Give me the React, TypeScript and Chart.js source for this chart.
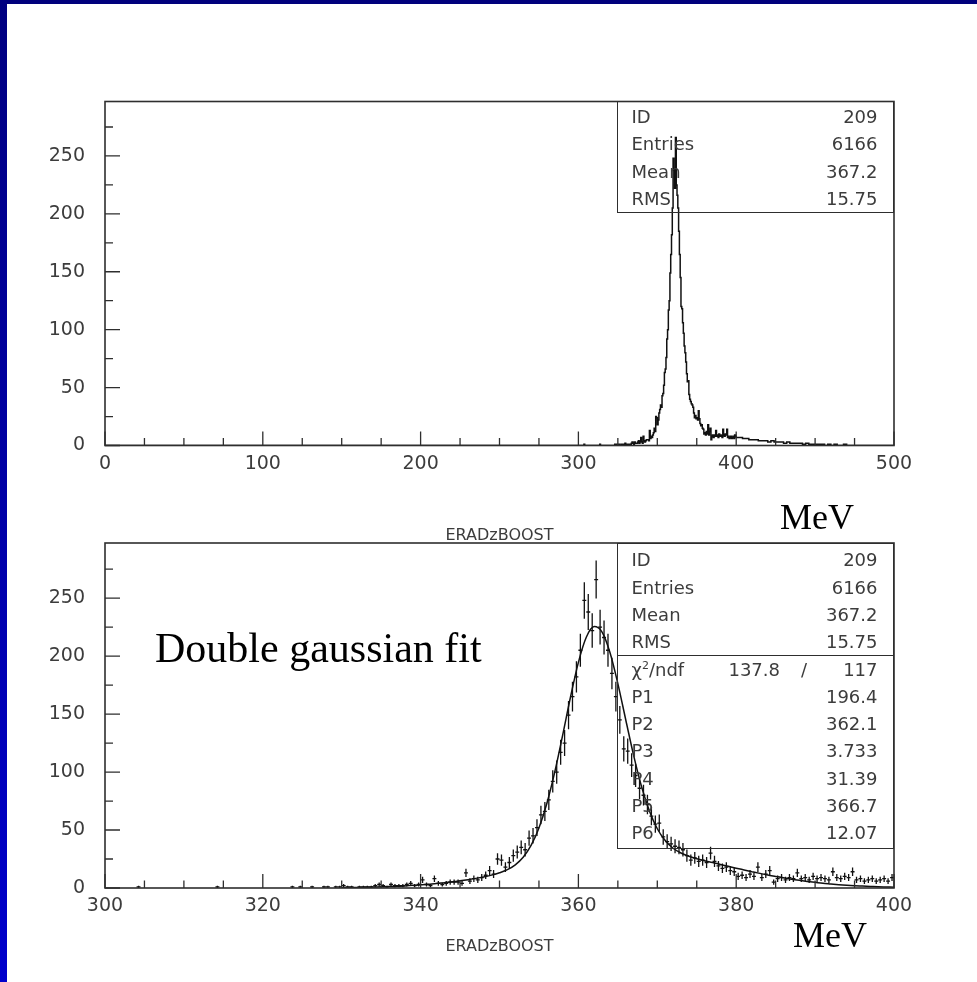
import React, { useEffect, useRef } from 'react';
import { Chart, registerables } from 'chart.js';
Chart.register(...registerables);

// ---- histogram data (ID 209, ERADzBOOST, 0.5 MeV bins from 300 to 400) ----
const BIN_START = 300;
const BIN_WIDTH = 0.5;
const BIN_COUNTS = [
  0, 0, 0, 0, 0, 0, 0, 0, 1, 0, 0, 0, 0, 0, 0, 0, 0, 0, 0, 0,
  0, 0, 0, 0, 0, 0, 0, 0, 1, 0, 0, 0, 0, 0, 0, 0, 0, 0, 0, 0,
  0, 0, 0, 0, 0, 0, 0, 1, 0, 1, 0, 0, 1, 0, 0, 1, 1, 0, 1, 1,
  2, 1, 1, 0, 1, 1, 1, 1, 2, 3, 2, 1, 3, 2, 2, 2, 3, 4, 2, 3,
  7, 3, 2, 8, 4, 3, 4, 5, 5, 5, 4, 13, 6, 8, 7, 9, 11, 15, 12, 25,
  24, 18, 22, 28, 31, 35, 33, 43, 45, 52, 63, 66, 76, 92, 100, 117, 125, 149, 165, 182,
  205, 248, 238, 222, 266, 225, 216, 205, 185, 165, 145, 120, 118, 106, 97, 86, 80, 72, 62, 55,
  56, 44, 40, 38, 36, 35, 33, 28, 24, 26, 23, 24, 22, 30, 23, 19, 17, 18, 15, 14,
  10, 11, 9, 12, 10, 18, 9, 12, 15, 5, 8, 9, 7, 9, 8, 13, 8, 9, 7, 10,
  8, 9, 8, 7, 14, 9, 8, 10, 9, 14, 7, 8, 6, 7, 8, 6, 7, 8, 6, 9,
];
// tail above 400 MeV (only visible in the full-range plot), 2 MeV steps
const TAIL_START = 400;
const TAIL_WIDTH = 2;
const TAIL_COUNTS = [
  8, 7, 7, 6, 6, 5, 5, 5, 4, 4, 4, 3, 4, 3, 3, 3, 2, 3, 2, 2,
  2, 2, 1, 2, 1, 1, 1, 1, 1, 0, 1, 0, 1, 0, 0, 1, 0, 0, 0, 0,
];
// double gaussian fit curve, read every 1 MeV from 330 to 400
const FIT_START = 330;
const FIT_VALUES = [
  0.3, 0.4, 0.5, 0.6, 0.8, 1.0, 1.2, 1.5, 1.8, 2.3, 2.7, 3.3, 3.8, 4.6, 5.3,
  6.2, 7.2, 8.3, 9.6, 11.1, 13.1, 15.8, 20.0, 26.5, 36.7, 51.8, 72.9, 99.9, 131.6, 164.7,
  194.6, 216.2, 225.4, 220.7, 203.1, 176.3, 145.1, 114.4, 87.5, 66.4, 51.1, 40.9, 34.3, 30.2, 27.4,
  25.3, 23.5, 22.0, 20.3, 18.7, 17.1, 15.6, 14.1, 12.6, 11.2, 10.0, 8.8, 7.6, 6.6, 5.7,
  4.9, 4.1, 3.5, 2.9, 2.4, 2.0, 1.7, 1.4, 1.1, 0.9, 0.7,
];

// ---- tick labels ----
const TOP_X_LABELS = [0, 100, 200, 300, 400, 500];
const BOTTOM_X_LABELS = [300, 320, 340, 360, 380, 400];
const Y_LABELS = [0, 50, 100, 150, 200, 250];

// ---- statistics boxes ----
const TOP_STATS = [['ID', '209'], ['Entries', '6166'], ['Mean', '367.2'], ['RMS', '15.75']];
const FIT_CHI2 = '137.8';
const FIT_NDF = '117';
const FIT_PARAMS = [['P1', '196.4'], ['P2', '362.1'], ['P3', '3.733'], ['P4', '31.39'], ['P5', '366.7'], ['P6', '12.07']];

const FONT = '"DejaVu Sans", sans-serif';
const SERIF = '"Liberation Serif", "Times New Roman", serif';
const INK = '#2e2e2e';
const TXT = '#3c3c3c';

const frameTicks = {
  id: 'frameTicks',
  afterDraw(chart: any) {
    const { ctx, chartArea: a, scales } = chart;
    ctx.save();
    ctx.strokeStyle = INK;
    ctx.lineWidth = 1.6;
    ctx.strokeRect(a.left, a.top, a.right - a.left, a.bottom - a.top);
    ctx.lineWidth = 1.3;
    ctx.beginPath();
    scales.x.ticks.forEach((t: any) => {
      const px = scales.x.getPixelForValue(t.value);
      const len = t.label !== '' ? 14 : 7.5;
      ctx.moveTo(px, a.bottom);
      ctx.lineTo(px, a.bottom - len);
    });
    scales.y.ticks.forEach((t: any) => {
      const py = scales.y.getPixelForValue(t.value);
      const len = t.label !== '' ? 15 : 8;
      ctx.moveTo(a.left, py);
      ctx.lineTo(a.left + len, py);
    });
    ctx.stroke();
    ctx.restore();
  },
};

function makeOptions(cfg: {
  xmin: number; xmax: number; xstep: number; xlabels: number[]; ymax: number;
  padTop: number; xAxisHeight: number; titlePad: number;
}) {
  return {
    responsive: false,
    animation: false,
    devicePixelRatio: 1,
    layout: { padding: { top: cfg.padTop, right: 83, left: 0, bottom: 0 } },
    plugins: { legend: { display: false }, tooltip: { enabled: false } },
    elements: { point: { radius: 0 } },
    scales: {
      x: {
        type: 'linear',
        min: cfg.xmin,
        max: cfg.xmax,
        grid: { display: false, drawTicks: false },
        border: { display: false },
        ticks: {
          stepSize: cfg.xstep,
          autoSkip: false,
          maxRotation: 0,
          includeBounds: false,
          padding: 7,
          color: TXT,
          font: { family: FONT, size: 19 },
          callback: (v: number) => (cfg.xlabels.includes(v) ? String(v) : ''),
        },
        title: {
          display: true,
          text: 'ERADzBOOST',
          color: TXT,
          font: { family: FONT, size: 16 },
          padding: { top: 0, bottom: cfg.titlePad },
        },
        afterFit: (s: any) => { s.height = cfg.xAxisHeight; },
      },
      y: {
        type: 'linear',
        min: 0,
        max: cfg.ymax,
        grid: { display: false, drawTicks: false },
        border: { display: false },
        ticks: {
          stepSize: 25,
          autoSkip: false,
          includeBounds: false,
          padding: 20,
          color: TXT,
          font: { family: FONT, size: 19 },
          callback: (v: number) => (Y_LABELS.includes(v) ? String(v) : ''),
        },
        afterFit: (s: any) => { s.width = 105; },
      },
    },
  };
}

const statText: React.CSSProperties = {
  position: 'absolute', fontFamily: FONT, fontSize: 18, lineHeight: '18px', color: TXT, whiteSpace: 'nowrap',
};

function StatRow({ y, label, value }: { y: number; label: React.ReactNode; value: string }) {
  return (
    <>
      <div style={{ ...statText, top: y - 8.7, left: 631.5 }}>{label}</div>
      <div style={{ ...statText, top: y - 8.7, right: 977 - 877.5, textAlign: 'right' }}>{value}</div>
    </>
  );
}

export default function App() {
  const c1 = useRef<HTMLCanvasElement>(null);
  const c2 = useRef<HTMLCanvasElement>(null);

  useEffect(() => {
    // full-range histogram outline
    const hist: { x: number; y: number }[] = [{ x: 0, y: 0 }];
    BIN_COUNTS.forEach((c, i) => hist.push({ x: BIN_START + i * BIN_WIDTH, y: c }));
    TAIL_COUNTS.forEach((c, i) => hist.push({ x: TAIL_START + i * TAIL_WIDTH, y: c }));
    hist.push({ x: TAIL_START + TAIL_COUNTS.length * TAIL_WIDTH, y: 0 });
    hist.push({ x: 500, y: 0 });

    // error bars for the zoomed histogram
    const vert: { x: number; y: number | null }[] = [];
    const horiz: { x: number; y: number | null }[] = [];
    BIN_COUNTS.forEach((c, i) => {
      if (c <= 0) return;
      const lo = BIN_START + i * BIN_WIDTH;
      const cx = lo + BIN_WIDTH / 2;
      const e = Math.sqrt(c);
      vert.push({ x: cx, y: c - e }, { x: cx, y: c + e }, { x: cx, y: null });
      horiz.push({ x: lo, y: c }, { x: lo + BIN_WIDTH, y: c }, { x: lo + BIN_WIDTH, y: null });
    });
    const fit = FIT_VALUES.map((v, i) => ({ x: FIT_START + i, y: v }));

    const ch1 = new Chart(c1.current!, {
      type: 'line',
      data: {
        datasets: [{
          data: hist, stepped: 'after', borderColor: '#111', borderWidth: 1.5,
          pointRadius: 0, fill: false,
        }],
      },
      options: makeOptions({
        xmin: 0, xmax: 500, xstep: 25, xlabels: TOP_X_LABELS, ymax: 297,
        padTop: 101.5, xAxisHeight: 109.5, titlePad: 10,
      }) as any,
      plugins: [frameTicks],
    });

    const ch2 = new Chart(c2.current!, {
      type: 'line',
      data: {
        datasets: [
          { data: vert, borderColor: '#111', borderWidth: 1.3, pointRadius: 0, spanGaps: false },
          { data: horiz, borderColor: '#111', borderWidth: 1.3, pointRadius: 0, spanGaps: false },
          { data: fit, borderColor: '#111', borderWidth: 1.5, pointRadius: 0, cubicInterpolationMode: 'monotone' },
        ],
      },
      options: makeOptions({
        xmin: 300, xmax: 400, xstep: 5, xlabels: BOTTOM_X_LABELS, ymax: 297.5,
        padTop: 63, xAxisHeight: 94, titlePad: 25.6,
      }) as any,
      plugins: [frameTicks],
    });

    return () => { ch1.destroy(); ch2.destroy(); };
  }, []);

  const boxLine = '1.5px solid ' + INK;
  const chiY = 669.2 - 8.7;
  return (
    <div style={{ position: 'absolute', left: 0, top: 0, width: 977, height: 982, background: '#fff', overflow: 'hidden' }}>
      <canvas ref={c1} width={977} height={555} style={{ position: 'absolute', left: 0, top: 0 }} />
      <canvas ref={c2} width={977} height={502} style={{ position: 'absolute', left: 0, top: 480 }} />

      {/* top statistics box */}
      <div style={{ position: 'absolute', left: 617, top: 101, width: 277, height: 112, boxSizing: 'border-box', border: boxLine }} />
      {TOP_STATS.map(([l, v], k) => <StatRow key={'t' + k} y={116.7 + k * 27.3} label={l} value={v} />)}

      {/* bottom statistics box */}
      <div style={{ position: 'absolute', left: 617, top: 542.5, width: 277, height: 306, boxSizing: 'border-box', border: boxLine }} />
      <div style={{ position: 'absolute', left: 617, top: 655, width: 277, height: 0, borderTop: boxLine }} />
      {TOP_STATS.map(([l, v], k) => <StatRow key={'b' + k} y={560 + k * 27.3} label={l} value={v} />)}
      <div style={{ ...statText, left: 631.5, top: chiY }}>
        χ<span style={{ position: 'relative', top: -7, fontSize: 11 }}>2</span>/ndf
      </div>
      <div style={{ ...statText, right: 977 - 780, top: chiY }}>{FIT_CHI2}</div>
      <div style={{ ...statText, left: 801, top: chiY }}>/</div>
      <div style={{ ...statText, right: 977 - 877.5, top: chiY }}>{FIT_NDF}</div>
      {FIT_PARAMS.map(([l, v], k) => <StatRow key={'p' + k} y={696.5 + k * 27.3} label={l} value={v} />)}

      {/* annotations */}
      <div style={{ position: 'absolute', left: 155, top: 626.5, fontFamily: SERIF, fontSize: 42, lineHeight: '42px', color: '#000', whiteSpace: 'nowrap' }}>Double gaussian fit</div>
      <div style={{ position: 'absolute', left: 780, top: 498.9, fontFamily: SERIF, fontSize: 36, lineHeight: '36px', color: '#000' }}>MeV</div>
      <div style={{ position: 'absolute', left: 793, top: 916.9, fontFamily: SERIF, fontSize: 36, lineHeight: '36px', color: '#000' }}>MeV</div>

      {/* slide border */}
      <div style={{ position: 'absolute', left: 0, top: 0, width: 977, height: 4, background: '#00007c' }} />
      <div style={{ position: 'absolute', left: 0, top: 0, width: 7, height: 982, background: 'linear-gradient(#000080, #0000cc)' }} />
    </div>
  );
}
